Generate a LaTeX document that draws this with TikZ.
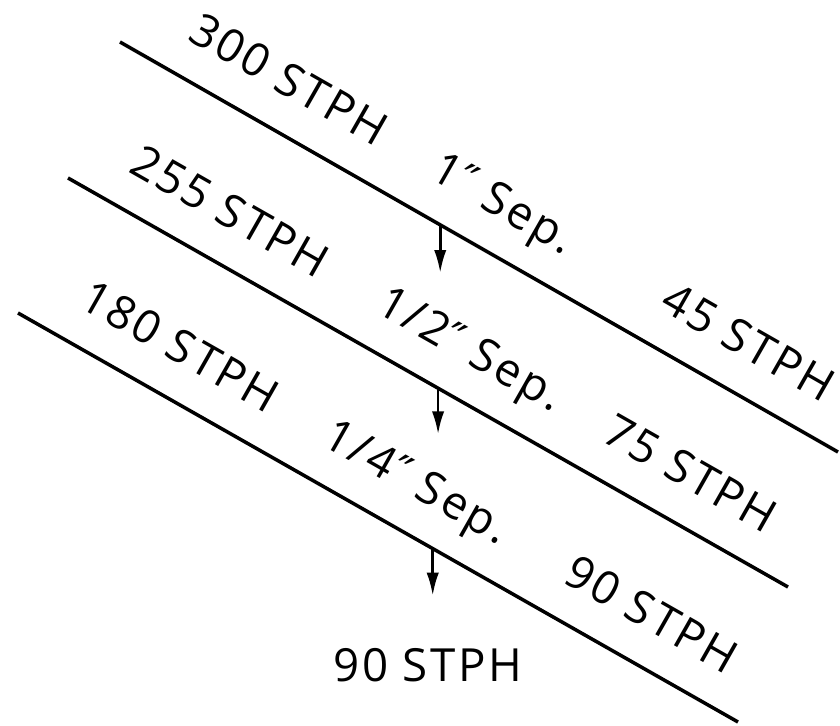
\documentclass[tikz,border=0pt]{standalone}
\usepackage{fontspec}
\setmainfont{Open Sans}[LetterSpace=6]
\newfontfamily\primefont{DejaVu Sans}[LetterSpace=6]
\newcommand{\dprime}{{\primefont ″}}
\usetikzlibrary{arrows.meta}

\begin{document}
\begin{tikzpicture}[x=0.02cm,y=-0.02cm,
  screen/.style={line width=2pt},
  flow/.style={-{Latex[length=13pt,width=7pt]},line width=1.5pt},
  rate/.style={sloped,above=19pt,inner sep=0pt,text height=18pt,
               text depth=0pt,font=\fontsize{26}{30}\selectfont}]
  \useasboundingbox (0,0) rectangle (840,726);
  \coordinate (T1) at (120,42);  \coordinate (T2) at (838,452);
  \coordinate (M1) at (68,178);  \coordinate (M2) at (788,587);
  \coordinate (B1) at (18,313);  \coordinate (B2) at (738,722);
  \draw[screen] (T1) -- node[rate,pos=.2] {300 STPH}
        node[rate,pos=.5] {1\dprime\ Sep.} node[rate,pos=.84] {45 STPH}
        coordinate[pos=.446] (D1) (T2);
  \draw[screen] (M1) -- node[rate,pos=.19] {255 STPH}
        node[rate,pos=.525] {1/2\dprime\ Sep.} node[rate,pos=.83] {75 STPH}
        coordinate[pos=.514] (D2) (M2);
  \draw[screen] (B1) -- node[rate,pos=.19] {180 STPH}
        node[rate,pos=.52] {1/4\dprime\ Sep.} node[rate,pos=.845] {90 STPH}
        coordinate[pos=.576] (D3) (B2);
  \path (D1) ++(0,48) coordinate (E1);
  \path (D2) ++(0,46) coordinate (E2);
  \path (D3) ++(0,47) coordinate (E3);
  \draw[flow] (D1) -- (E1);
  \draw[flow] (D2) -- (E2);
  \draw[flow] (D3) -- (E3);
  \node[font=\fontsize{26}{30}\selectfont] (out) at (428,665) {90 STPH};
\end{tikzpicture}
\end{document}
